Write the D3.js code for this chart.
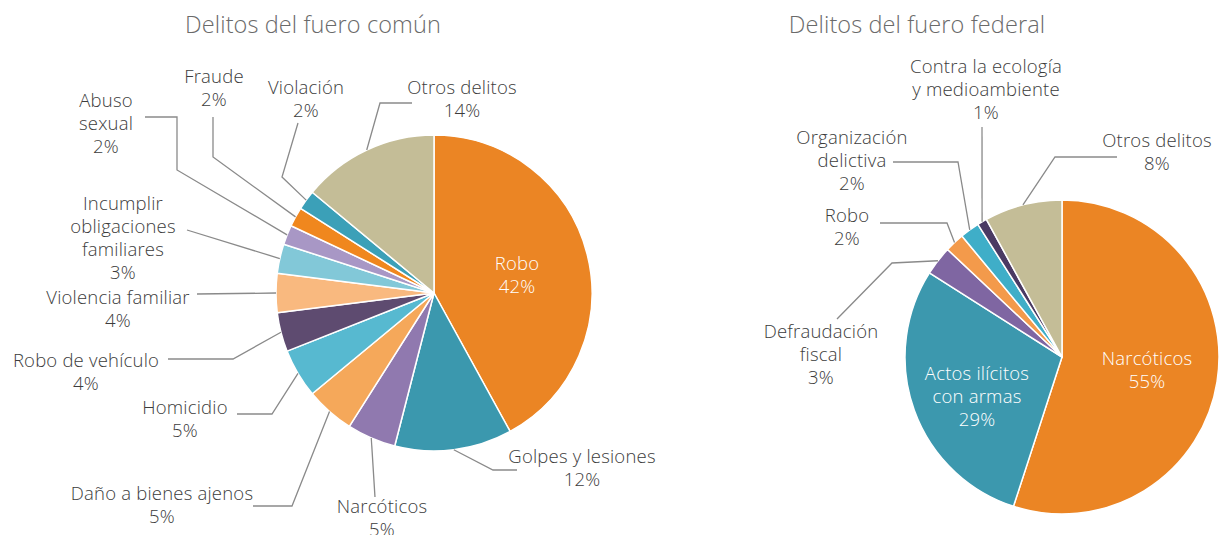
<!DOCTYPE html>
<html><head><meta charset="utf-8">
<script src="https://cdn.jsdelivr.net/npm/d3@7"></script>
<style>
body{margin:0;background:#fff;}
text{font-family:"Open Sans","Noto Sans",sans-serif;}
</style></head><body>
<svg id="c" width="1221" height="535"></svg>
<script>
// ---- data ----
const comunTitle = "Delitos del fuero común";
const comunCategories = ["Robo","Golpes y lesiones","Narcóticos","Daño a bienes ajenos","Homicidio","Robo de vehículo","Violencia familiar","Incumplir\nobligaciones\nfamiliares","Abuso\nsexual","Fraude","Violación","Otros delitos"];
const comunValues = [42,12,5,5,5,4,4,3,2,2,2,14];
const comunColors = ["#EB8524","#3B98AE","#9079AF","#F5A85A","#57B9D0","#5E4B70","#F9B97F","#82C8D8","#A897C5","#F0871E","#3BA0B8","#C4BD97"];

const federalTitle = "Delitos del fuero federal";
const federalCategories = ["Narcóticos","Actos ilícitos\ncon armas","Defraudación\nfiscal","Robo","Organización\ndelictiva","Contra la ecología\ny medioambiente","Otros delitos"];
const federalValues = [55,29,3,2,2,1,8];
const federalColors = ["#EB8524","#3C98AE","#7F66A2","#F39A4B","#3FAEC8","#4A3A63","#C4BD97"];

// ---- layout (label anchors & leader elbows) ----
const comunLayout = [
  {inside:true, x:517, y:270},
  {x:582, y:463, pts:[[493,470],[517,470]]},
  {x:382, y:513, pts:[[375,497]]},
  {x:162, y:500, pts:[[292,506],[253,506]]},
  {x:185, y:414, pts:[[272,414],[237,414]]},
  {x:86,  y:367, pts:[[233,359],[168,359]]},
  {x:118, y:304, pts:[[197,294]]},
  {x:123, y:210, pts:[[187,230]]},
  {x:106, y:107, pts:[[177,170],[177,117],[145,117]]},
  {x:214, y:83,  pts:[[213,157],[213,117]]},
  {x:306, y:94,  pts:[[282,177],[298,123]]},
  {x:462, y:94,  pts:[[380,103],[412,103]]}
];
const federalLayout = [
  {inside:true, x:1147, y:365},
  {inside:true, x:977, y:380},
  {x:821, y:338, pts:[[892,263],[837,319]]},
  {x:847, y:222, pts:[[947,223],[880,223]]},
  {x:852, y:144, pts:[[958,162],[893,162]]},
  {x:986, y:73,  pts:[[982,127]]},
  {x:1157, y:147, pts:[[1055,157],[1117,157]]}
];

const svg = d3.select("#c");
const LH = 23;

function drawPie(opts){
  const {title, titleX, cx, cy, r, cats, vals, cols, layout} = opts;
  const g = svg.append("g");
  g.append("text").attr("x", titleX).attr("y", 33).attr("text-anchor","middle")
    .attr("font-size", 23.5).attr("font-weight", 300).attr("letter-spacing",0.1)
    .attr("fill","#6a6a6a").text(title);
  const pie = d3.pie().sort(null).value(d=>d)(vals);
  const arc = d3.arc().innerRadius(0).outerRadius(r);
  const edge = d3.arc().innerRadius(r).outerRadius(r);
  const pg = g.append("g").attr("transform",`translate(${cx},${cy})`);
  pg.selectAll("path").data(pie).join("path")
    .attr("d", arc).attr("fill",(d,i)=>cols[i])
    .attr("stroke","#fff").attr("stroke-width",1.5).attr("stroke-linejoin","round");
  // leaders
  pie.forEach((d,i)=>{
    const L = layout[i];
    if(L.inside) return;
    const c = edge.centroid(d);
    const pts = [[cx+c[0], cy+c[1]], ...L.pts];
    g.append("path").attr("d", d3.line()(pts)).attr("fill","none")
      .attr("stroke","#8a8a8a").attr("stroke-width",1.3);
  });
  // labels
  pie.forEach((d,i)=>{
    const L = layout[i];
    const lines = cats[i].split("\n").concat([vals[i]+"%"]);
    const t = g.append("text").attr("text-anchor","middle").attr("font-size",18.5)
      .attr("font-weight",300).attr("letter-spacing",0.2)
      .attr("fill", L.inside ? "#fff" : "#3c3c3c");
    lines.forEach((s,k)=>{
      t.append("tspan").attr("x", L.x).attr("y", L.y + k*LH).text(s);
    });
  });
}

drawPie({title:comunTitle, titleX:313, cx:434, cy:293, r:158,
  cats:comunCategories, vals:comunValues, cols:comunColors, layout:comunLayout});
drawPie({title:federalTitle, titleX:917, cx:1062, cy:357, r:157,
  cats:federalCategories, vals:federalValues, cols:federalColors, layout:federalLayout});
</script>
</body></html>
